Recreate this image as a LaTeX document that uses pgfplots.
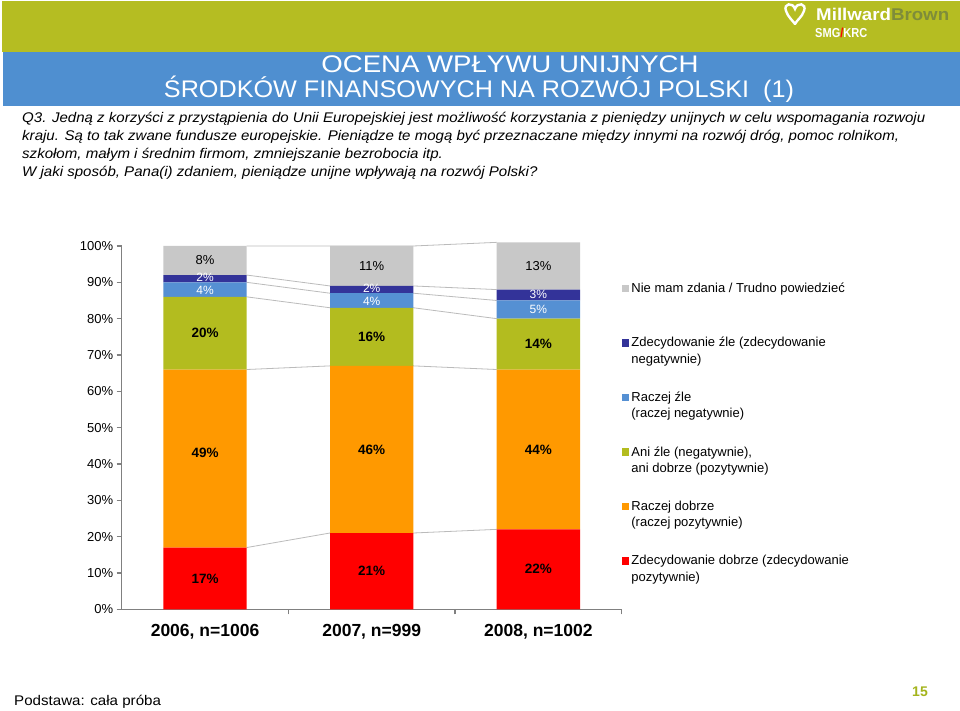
\documentclass[border=0pt]{standalone}
\usepackage{pgfplots}
\pgfplotsset{compat=1.18}
\usepackage{pgfplotstable}
\usepackage{fontspec}
\setmainfont{Liberation Sans}
\definecolor{cgray}{HTML}{C8C8C8}
\definecolor{cdblue}{HTML}{333399}
\definecolor{clblue}{HTML}{5590D3}
\definecolor{cgreen}{HTML}{B3BC1F}
\definecolor{corange}{HTML}{FF9900}
\definecolor{cred}{HTML}{FF0000}
\definecolor{hgreen}{HTML}{B5BD22}
\definecolor{hblue}{HTML}{4F8FD0}
\definecolor{linegray}{HTML}{BBBBBB}
\definecolor{axgray}{HTML}{808080}
\definecolor{logobrown}{HTML}{7E8C3A}
\definecolor{pagegreen}{HTML}{A4B41C}

% values in percent, bottom to top of each bar
\pgfplotstableread{
x zdb rdb ani rzl zzl nie
0 17 49 20 4 2 8
1 21 46 16 4 2 11
2 22 44 14 5 3 13
}\datatable

\pgfplotsset{
  myax/.style={scale only axis, width=500pt, height=363.3pt,
    xmin=-0.5, xmax=2.5, ymin=0, ymax=100, clip=false,
    at={(121.7pt,101.7pt)}, anchor=south west},
  lab/.style={draw=none, mark=none, forget plot, nodes near coords,
    point meta=explicit symbolic,
    every node near coord/.append style={anchor=center, inner sep=0pt}},
  sq legend/.style={legend image code/.code={\fill[##1] (0pt,16.5pt) rectangle (7.5pt,24pt);}},
}

\begin{document}
\begin{tikzpicture}
\useasboundingbox (0,0) rectangle (960pt,711pt);
\fill[white] (0,0) rectangle (960pt,711pt);
\begin{scope}[yshift=711pt, x=1pt, y=-1pt]
  \fill[hgreen] (2,1) rectangle (960,52);
  \fill[hblue] (3,52) rectangle (960,106);
  % logo
  \draw[white, line width=2.4pt, line cap=round]
    (786,11) .. controls (783,3) and (793,2) .. (795,9) .. controls (797,2) and (807,3) .. (804,11)
    .. controls (802,17) and (797,20) .. (795,24);
  \draw[white, line width=2.4pt, line cap=round]
    (786,11) .. controls (788,17) and (793,21) .. (795,24);
  \node[anchor=base west, inner sep=0pt, xscale=1.1, font=\bfseries\fontsize{17}{20}\selectfont] at (816,20.5)
    {\textcolor{white}{Millward}\textcolor{logobrown}{Brown}};
  \node[anchor=base west, inner sep=0pt, xscale=0.85, font=\bfseries\fontsize{13}{15}\selectfont] at (815,38)
    {\textcolor{white}{SMG}\textcolor{red}{/}\textcolor{white}{KRC}};
  % title
  \node[anchor=base, inner sep=0pt, white, xscale=1.15, font=\fontsize{24}{28}\selectfont] at (510,73)
    {OCENA WPŁYWU UNIJNYCH};
  \node[anchor=base, inner sep=0pt, white, xscale=1.05, font=\fontsize{24}{28}\selectfont] at (479,98)
    {ŚRODKÓW FINANSOWYCH NA ROZWÓJ POLSKI\ \ (1)};
  % question
  \begin{scope}[every node/.style={anchor=base west, inner sep=0pt, xscale=1.075, font=\itshape\fontsize{14}{17}\selectfont}]
    \node at (22,122.5) {Q3. Jedną z korzyści z przystąpienia do Unii Europejskiej jest możliwość korzystania z pieniędzy unijnych w celu wspomagania rozwoju};
    \node at (22,140.5) {kraju. Są to tak zwane fundusze europejskie. Pieniądze te mogą być przeznaczane między innymi na rozwój dróg, pomoc rolnikom,};
    \node at (22,158.5) {szkołom, małym i średnim firmom, zmniejszanie bezrobocia itp.};
    \node at (22,176.5) {W jaki sposób, Pana(i) zdaniem, pieniądze unijne wpływają na rozwój Polski?};
  \end{scope}
  % footer
  \node[anchor=base west, inner sep=0pt, xscale=1.08, font=\fontsize{14}{16}\selectfont] at (14,706) {Podstawa: cała próba};
  \node[anchor=base, inner sep=0pt, text=pagegreen, font=\bfseries\fontsize{14}{16}\selectfont] at (920,697) {15};
\end{scope}

% series lines between the bars
\begin{axis}[myax, hide axis]
  \addplot[linegray, line width=0.8pt] coordinates {(0.25,17) (0.75,21) (1.25,21) (1.75,22)};
  \addplot[linegray, line width=0.8pt] coordinates {(0.25,66) (0.75,67) (1.25,67) (1.75,66)};
  \addplot[linegray, line width=0.8pt] coordinates {(0.25,86) (0.75,83) (1.25,83) (1.75,80)};
  \addplot[linegray, line width=0.8pt] coordinates {(0.25,90) (0.75,87) (1.25,87) (1.75,85)};
  \addplot[linegray, line width=0.8pt] coordinates {(0.25,92) (0.75,89) (1.25,89) (1.75,88)};
  \addplot[linegray, line width=0.8pt] coordinates {(0.25,100) (0.75,100) (1.25,100) (1.75,101)};
\end{axis}

% bars
\begin{axis}[myax,
  ybar stacked, bar width=0.5,
  axis x line*=bottom, axis y line*=left,
  axis line style={axgray, line width=1.4pt},
  tick style={axgray, line width=1.2pt},
  tick align=outside, major tick length=5pt, minor tick length=5pt,
  xtick={0,1,2},
  xticklabels={{2006, n=1006},{2007, n=999},{2008, n=1002}},
  major x tick style={draw=none},
  minor xtick={0.5,1.5,2.5},
  xticklabel style={font=\bfseries\fontsize{17.5}{20}\selectfont, yshift=-6.5pt},
  ytick={0,10,...,100},
  yticklabels={0\%,10\%,20\%,30\%,40\%,50\%,60\%,70\%,80\%,90\%,100\%},
  yticklabel style={font=\fontsize{13}{15}\selectfont},
  reverse legend,
  legend cell align=left,
  legend style={draw=none, fill=none, at={(1.0,0.905)}, anchor=north west,
    inner xsep=0pt, inner ysep=0pt, row sep=23pt, column sep=0pt,
    font=\fontsize{13}{16.5}\selectfont,
    cells={anchor=base west, align=left, inner xsep=4pt, inner ysep=0pt}},
]
  \addplot[fill=cred, draw=none, sq legend] table[x=x, y=zdb] {\datatable};
  \addlegendentry{Zdecydowanie dobrze (zdecydowanie\\pozytywnie)}
  \addplot[fill=corange, draw=none, sq legend] table[x=x, y=rdb] {\datatable};
  \addlegendentry{Raczej dobrze\\(raczej pozytywnie)}
  \addplot[fill=cgreen, draw=none, sq legend] table[x=x, y=ani] {\datatable};
  \addlegendentry{Ani źle (negatywnie),\\ani dobrze (pozytywnie)}
  \addplot[fill=clblue, draw=none, sq legend] table[x=x, y=rzl] {\datatable};
  \addlegendentry{Raczej źle\\(raczej negatywnie)}
  \addplot[fill=cdblue, draw=none, sq legend] table[x=x, y=zzl] {\datatable};
  \addlegendentry{Zdecydowanie źle (zdecydowanie\\negatywnie)}
  \addplot[fill=cgray, draw=none, sq legend] table[x=x, y=nie] {\datatable};
  \addlegendentry{Nie mam zdania / Trudno powiedzieć\\\vphantom{(}}
\end{axis}

% value labels, centred in each segment
\begin{axis}[myax, hide axis]
  \addplot[lab, every node near coord/.append style={font=\fontsize{13}{15}\selectfont, text=black}]
    coordinates {(0,96) [8\%] (1,94.5) [11\%] (2,94.5) [13\%]};
  \addplot[lab, every node near coord/.append style={font=\fontsize{12}{14}\selectfont, text=white}]
    coordinates {(0,91.4) [2\%] (1,88.3) [2\%] (2,86.6) [3\%]};
  \addplot[lab, every node near coord/.append style={font=\fontsize{12}{14}\selectfont, text=white}]
    coordinates {(0,87.8) [4\%] (1,84.7) [4\%] (2,82.5) [5\%]};
  \addplot[lab, every node near coord/.append style={font=\bfseries\fontsize{13.5}{15}\selectfont, text=black}]
    coordinates {(0,76) [20\%] (1,75) [16\%] (2,73) [14\%]};
  \addplot[lab, every node near coord/.append style={font=\bfseries\fontsize{13.5}{15}\selectfont, text=black}]
    coordinates {(0,43) [49\%] (1,44) [46\%] (2,44) [44\%]};
  \addplot[lab, every node near coord/.append style={font=\bfseries\fontsize{13.5}{15}\selectfont, text=black}]
    coordinates {(0,8.5) [17\%] (1,10.5) [21\%] (2,11) [22\%]};
\end{axis}
\end{tikzpicture}
\end{document}
